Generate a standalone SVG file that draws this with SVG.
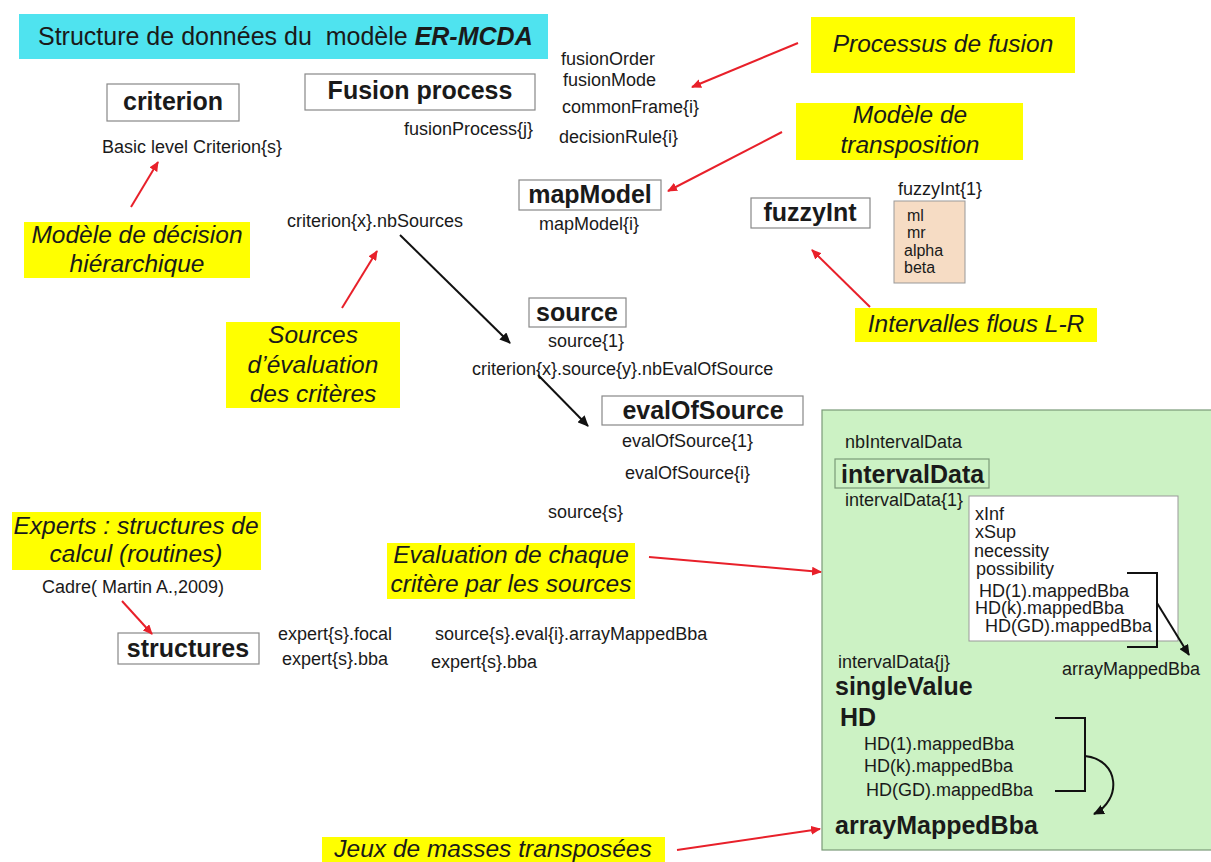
<svg xmlns="http://www.w3.org/2000/svg" width="1211" height="862" viewBox="0 0 1211 862">
<defs>
<marker id="rh" markerWidth="10" markerHeight="9" refX="9" refY="4.5" orient="auto" markerUnits="userSpaceOnUse" viewBox="0 0 10 9"><path d="M0,0 L10,4.5 L0,9 z" fill="#e8202a"/></marker>
<marker id="bh" markerWidth="11" markerHeight="10" refX="10" refY="5" orient="auto" markerUnits="userSpaceOnUse" viewBox="0 0 11 10"><path d="M0,0 L11,5 L0,10 z" fill="#111"/></marker>
</defs>
<style>
text{font-family:"Liberation Sans",Arial,sans-serif;fill:#1a1a1a}
.t{font-size:18px}
.s{font-size:16px}
.b{font-size:25px;font-weight:bold}
.bx{fill:#fff;stroke:#888;stroke-width:1.2}
.y{fill:#ffff00}
.n{font-size:24.5px;font-style:italic}
.r{stroke:#e8202a;stroke-width:2;fill:none}
.k{stroke:#111;stroke-width:2;fill:none}
</style>
<rect width="1211" height="862" fill="#fff"/>
<g id="title">
<rect x="19" y="14" width="529" height="45" fill="#4fe3ef"/>
<text x="38" y="45" font-size="25">Structure de données du&#160; modèle <tspan font-weight="bold" font-style="italic">ER-MCDA</tspan></text>
</g>
<g id="criterion">
<rect class="bx" x="107" y="84" width="132" height="37"/>
<text class="b" x="173" y="110" text-anchor="middle">criterion</text>
<text class="t" x="102" y="153">Basic level Criterion{s}</text>
</g>
<g id="fusion">
<rect class="bx" x="305" y="74" width="230" height="36"/>
<text class="b" x="420" y="99" text-anchor="middle">Fusion process</text>
<text class="t" x="404" y="135">fusionProcess{j}</text>
<text class="t" x="561" y="65">fusionOrder</text>
<text class="t" x="563" y="86">fusionMode</text>
<text class="t" x="562" y="113">commonFrame{i}</text>
<text class="t" x="559" y="143">decisionRule{i}</text>
</g>
<g id="note-fusion">
<rect class="y" x="811" y="17" width="264" height="56"/>
<text class="n" x="943" y="52" text-anchor="middle">Processus de fusion</text>
</g>
<g id="note-transposition">
<rect class="y" x="796" y="103" width="227" height="57"/>
<text class="n" x="910" y="123" text-anchor="middle">Modèle de</text>
<text class="n" x="910" y="153" text-anchor="middle">transposition</text>
</g>
<g id="mapModel">
<rect class="bx" x="519" y="180" width="142" height="30"/>
<text class="b" x="590" y="203" text-anchor="middle">mapModel</text>
<text class="t" x="539" y="230">mapModel{i}</text>
</g>
<g id="fuzzyInt">
<rect class="bx" x="751" y="198" width="119" height="30"/>
<text class="b" x="810" y="221" text-anchor="middle">fuzzyInt</text>
<text class="t" x="898" y="195">fuzzyInt{1}</text>
<rect x="894" y="201" width="71" height="82" fill="#f6dcc4" stroke="#999" stroke-width="1"/>
<text class="s" x="907" y="221">ml</text>
<text class="s" x="907" y="238">mr</text>
<text class="s" x="904" y="256">alpha</text>
<text class="s" x="904" y="273">beta</text>
</g>
<g id="note-intervalles">
<rect class="y" x="855" y="308" width="242" height="34"/>
<text class="n" x="976" y="332" text-anchor="middle">Intervalles flous L-R</text>
</g>
<g id="note-hierarchique">
<rect class="y" x="24" y="222" width="226" height="56"/>
<text class="n" x="137" y="243" text-anchor="middle">Modèle de décision</text>
<text class="n" x="137" y="272" text-anchor="middle">hiérarchique</text>
</g>
<g id="nbSources">
<text class="t" x="287" y="227">criterion{x}.nbSources</text>
</g>
<g id="note-sources">
<rect class="y" x="226" y="322" width="174" height="86"/>
<text class="n" x="313" y="343" text-anchor="middle">Sources</text>
<text class="n" x="313" y="373" text-anchor="middle">d’évaluation</text>
<text class="n" x="313" y="402" text-anchor="middle">des critères</text>
</g>
<g id="source">
<rect class="bx" x="529" y="298" width="97" height="29"/>
<text class="b" x="577" y="321" text-anchor="middle">source</text>
<text class="t" x="548" y="347">source{1}</text>
<text class="t" x="472" y="375">criterion{x}.source{y}.nbEvalOfSource</text>
<text class="t" x="548" y="518">source{s}</text>
</g>
<g id="evalOfSource">
<rect class="bx" x="602" y="396" width="201" height="29"/>
<text class="b" x="703" y="419" text-anchor="middle">evalOfSource</text>
<text class="t" x="622" y="447">evalOfSource{1}</text>
<text class="t" x="625" y="479">evalOfSource{i}</text>
</g>
<g id="note-experts">
<rect class="y" x="12" y="512" width="249" height="58"/>
<text class="n" x="136" y="534" text-anchor="middle">Experts : structures de</text>
<text class="n" x="136" y="562" text-anchor="middle">calcul (routines)</text>
<text class="t" x="42" y="593">Cadre( Martin A.,2009)</text>
</g>
<g id="structures">
<rect class="bx" x="118" y="633" width="141" height="31"/>
<text class="b" x="188" y="657" text-anchor="middle">structures</text>
<text class="t" x="278" y="640">expert{s}.focal</text>
<text class="t" x="282" y="665">expert{s}.bba</text>
<text class="t" x="435" y="640">source{s}.eval{i}.arrayMappedBba</text>
<text class="t" x="431" y="668">expert{s}.bba</text>
</g>
<g id="note-evaluation">
<rect class="y" x="387" y="543" width="248" height="56"/>
<text class="n" x="511" y="563" text-anchor="middle">Evaluation de chaque</text>
<text class="n" x="511" y="592" text-anchor="middle">critère par les sources</text>
</g>
<g id="note-jeux">
<rect class="y" x="322" y="837" width="343" height="30"/>
<text class="n" x="493" y="857" text-anchor="middle">Jeux de masses transposées</text>
</g>
<g id="panel">
<rect x="822" y="410" width="395" height="440" fill="#ccf2c4" stroke="#7a9a78" stroke-width="1.2"/>
<text class="t" x="845" y="448">nbIntervalData</text>
<rect x="835" y="459" width="154" height="29" fill="none" stroke="#7a9a78" stroke-width="1.2"/>
<text class="b" x="841" y="483">intervalData</text>
<text class="t" x="845" y="506">intervalData{1}</text>
<rect x="969" y="496" width="209" height="145" fill="#fff" stroke="#999" stroke-width="1"/>
<text class="t" x="975" y="520">xInf</text>
<text class="t" x="975" y="538">xSup</text>
<text class="t" x="974" y="557">necessity</text>
<text class="t" x="976" y="575">possibility</text>
<text class="t" x="979" y="597">HD(1).mappedBba</text>
<text class="t" x="975" y="614">HD(k).mappedBba</text>
<text class="t" x="985" y="632">HD(GD).mappedBba</text>
<text class="t" x="1062" y="675">arrayMappedBba</text>
<text class="t" x="838" y="668">intervalData{j}</text>
<text class="b" x="835" y="695">singleValue</text>
<text class="b" x="840" y="726">HD</text>
<text class="t" x="864" y="750">HD(1).mappedBba</text>
<text class="t" x="864" y="772">HD(k).mappedBba</text>
<text class="t" x="866" y="796">HD(GD).mappedBba</text>
<text class="b" x="835" y="834">arrayMappedBba</text>
</g>
<g id="connectors">
<line class="r" x1="798" y1="43" x2="692" y2="87" marker-end="url(#rh)"/>
<line class="r" x1="782" y1="132" x2="668" y2="191" marker-end="url(#rh)"/>
<line class="r" x1="870" y1="307" x2="812" y2="250" marker-end="url(#rh)"/>
<line class="r" x1="131" y1="207" x2="158" y2="162" marker-end="url(#rh)"/>
<line class="r" x1="342" y1="308" x2="377" y2="251" marker-end="url(#rh)"/>
<line class="r" x1="122" y1="601" x2="152" y2="634" marker-end="url(#rh)"/>
<line class="r" x1="649" y1="557" x2="821" y2="572" marker-end="url(#rh)"/>
<line class="r" x1="677" y1="850" x2="820" y2="829" marker-end="url(#rh)"/>
<line class="k" x1="400" y1="235" x2="510" y2="343" marker-end="url(#bh)"/>
<line class="k" x1="538" y1="375" x2="588" y2="426" marker-end="url(#bh)"/>
<path class="k" d="M1127,573 H1157 V647 H1127"/>
<line class="k" x1="1157" y1="603" x2="1189" y2="655" marker-end="url(#bh)"/>
<path class="k" d="M1055,718 H1085 V791 H1055"/>
<path class="k" d="M1085,756 C1120,760 1122,800 1094,814" marker-end="url(#bh)"/>
</g>
</svg>
